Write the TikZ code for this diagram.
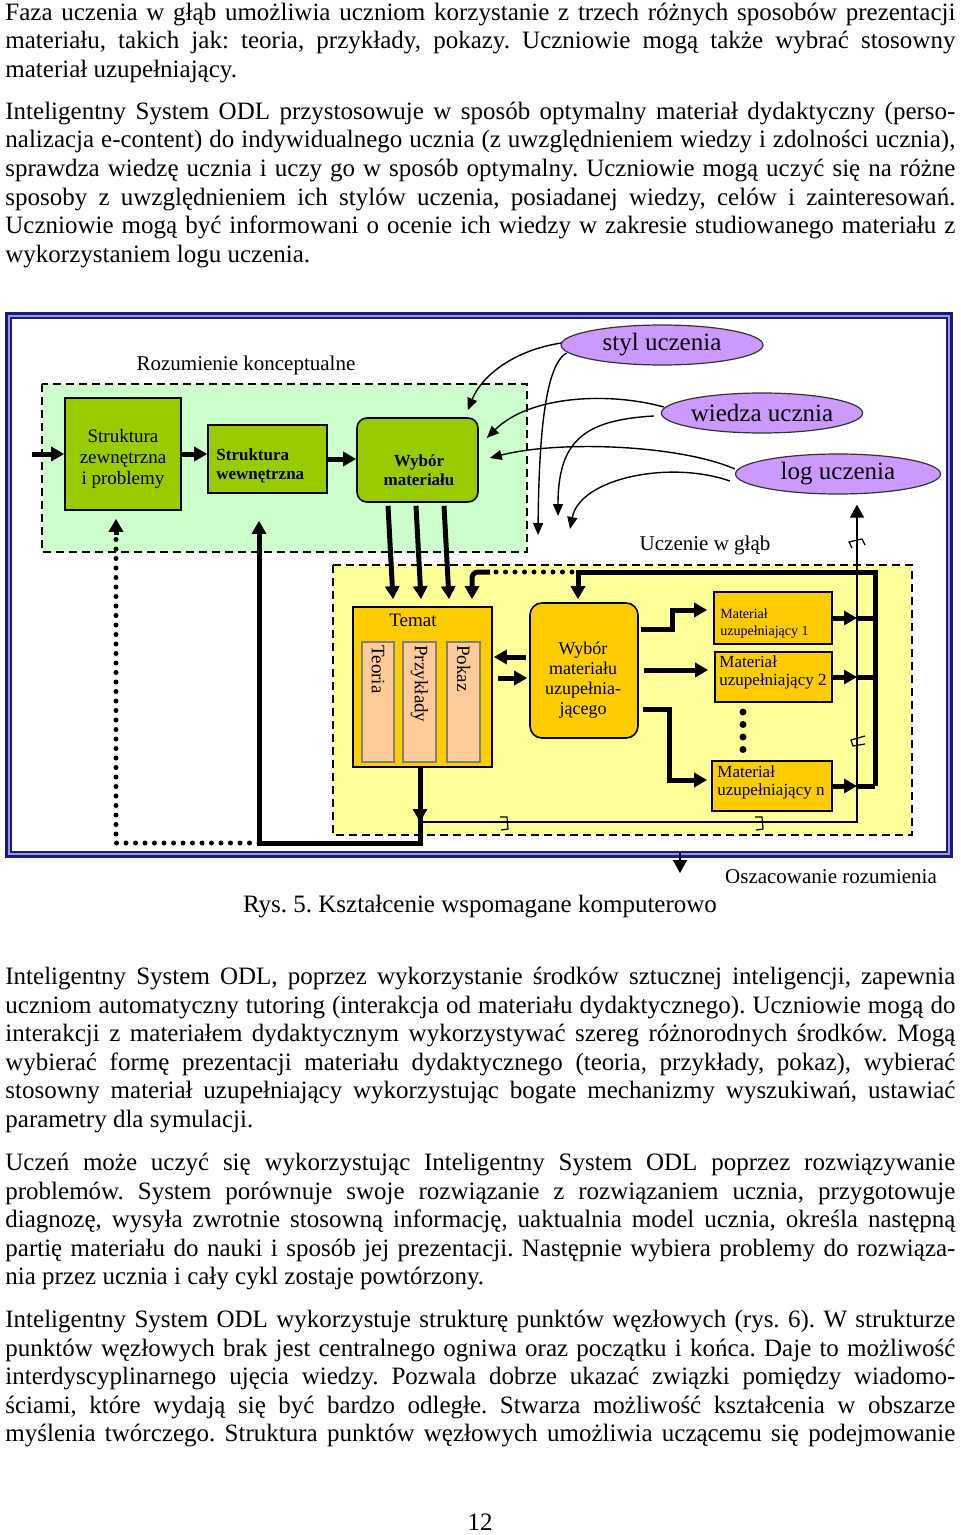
\documentclass[tikz,border=0pt]{standalone}
\usepackage{fontspec}
\setmainfont{Liberation Serif}
\usetikzlibrary{arrows.meta,shapes.geometric,calc}
\definecolor{navy}{HTML}{1A1A80}
\definecolor{lblue}{HTML}{9999DD}
\definecolor{lgreen}{HTML}{CCFFCC}
\definecolor{bgreen}{HTML}{99CC00}
\definecolor{lyellow}{HTML}{FFFF99}
\definecolor{gold}{HTML}{FFCC00}
\definecolor{peach}{HTML}{FFCC99}
\definecolor{lav}{HTML}{CC99FF}
\frenchspacing
\newcommand\fs[2]{\fontsize{#1pt}{#2pt}\selectfont}
\newcommand\sps{\frenchspacing\spaceskip=.25em plus .35em minus .08em\relax\xspaceskip=\spaceskip}
\newcommand\jline[1]{\noindent\makebox[475pt][s]{\sps\rule{0pt}{9.5pt}#1}\par}
\newcommand\lline[1]{\noindent\makebox[475pt][l]{\sps\rule{0pt}{9.5pt}#1}\par}
\lineskiplimit=-30pt
\begin{document}
\begin{tikzpicture}[x=0.5pt,y=-0.5pt,
  para/.style={anchor=north west,inner sep=0pt,text width=475pt,font=\fs{12.5}{14.3}},
  thk/.style={line width=2.5pt},
  thn/.style={line width=0.6pt},
  arr/.style={-{Triangle[length=6.5pt,width=7pt]}},
  cv/.style={line width=0.7pt,-{Triangle[length=6pt,width=5pt]}},
  dots/.style={line width=2.5pt,line cap=round,dash pattern=on 0pt off 4.75pt},
  gbox/.style={draw,line width=0.8pt,fill=bgreen,inner sep=0pt},
  ybox/.style={draw,line width=0.8pt,fill=gold,inner sep=0pt},
  pbox/.style={draw=black!50,line width=0.7pt,fill=peach,inner sep=0pt,minimum height=60pt},
  ell/.style={ellipse,draw=black!80,line width=0.6pt,fill=lav,inner sep=0pt,font=\fs{12.5}{14}},
  lbl/.style={inner sep=0pt,font=\fs{10.5}{12}},
  region/.style={draw,line width=0.8pt,dash pattern=on 4pt off 2.5pt}]
\useasboundingbox (0,0) rectangle (960,1535);
\fill[white] (0,0) rectangle (960,1535);

% ---------- text above ----------
\node[para] (p1) at (5,1) {%
\jline{Faza uczenia w głąb umożliwia uczniom korzystanie z trzech różnych sposobów prezentacji}
\jline{materiału, takich jak: teoria, przykłady, pokazy. Uczniowie mogą także wybrać stosowny}
\lline{materiał uzupełniający.}};
\node[para] (p2) at (5,100) {%
\jline{Inteligentny System ODL przystosowuje w sposób optymalny materiał dydaktyczny (perso-}
\jline{nalizacja e-content) do indywidualnego ucznia (z uwzględnieniem wiedzy i zdolności ucznia),}
\jline{sprawdza wiedzę ucznia i uczy go w sposób optymalny. Uczniowie mogą uczyć się na różne}
\jline{sposoby z uwzględnieniem ich stylów uczenia, posiadanej wiedzy, celów i zainteresowań.}
\jline{Uczniowie mogą być informowani o ocenie ich wiedzy w zakresie studiowanego materiału z}
\lline{wykorzystaniem logu uczenia.}};

% ---------- frame ----------
\draw[navy,line width=1.5pt] (6,314) rectangle (951,856);
\draw[lblue,line width=1pt] (8.5,316.5) rectangle (948.5,853.5);
\draw[navy,line width=1pt] (10.5,318.5) rectangle (946.5,851.5);

% ---------- regions ----------
\fill[lgreen] (42,384) rectangle (527,552);
\draw[region] (42,384) rectangle (527,552);
\fill[lyellow] (333,565) rectangle (912,835);
\draw[region] (333,565) rectangle (912,835);

\node[lbl] (rk) at (246,365) {Rozumienie konceptualne};
\node[lbl] (ug) at (705,545) {Uczenie w głąb};

% ---------- green boxes ----------
\node[gbox,minimum width=58pt,minimum height=56pt] (b1) at (123,454) {};
\node[gbox,minimum width=59.5pt,minimum height=34pt] (b2) at (267.5,459) {};
\node[gbox,rounded corners=5pt,minimum width=60.5pt,minimum height=42pt] (b3) at (417.5,460) {};
\node[inner sep=0pt,align=center,font=\fs{9.5}{10.5}] (b1t) at (123,459) {Struktura\\zewnętrzna\\i problemy};
\node[inner sep=0pt,align=left,anchor=west,font=\bfseries\fs{8.5}{9.5}] (b2t) at (216,466) {Struktura\\wewnętrzna};
\node[inner sep=0pt,align=center,font=\bfseries\fs{8.5}{9.5}] (b3t) at (419,470) {Wybór\\materiału};

% ---------- ellipses ----------
\node[ell,minimum width=101pt,minimum height=20pt] (styl) at (662,345) {styl uczenia};
\node[ell,minimum width=100pt,minimum height=20pt] (wiedza) at (762,413) {wiedza ucznia};
\node[ell,minimum width=102.5pt,minimum height=20pt] (log) at (838,474) {log uczenia};

% ---------- yellow part boxes ----------
\node[ybox,minimum width=69.5pt,minimum height=80pt] (tm) at (422.5,687) {};
\node[inner sep=0pt,font=\fs{9.5}{10.5}] (tmt) at (413,620) {Temat};
\node[pbox,minimum width=16pt] (teo) at (378,702) {};
\node[pbox,minimum width=16.5pt] (prz) at (419.5,702) {};
\node[pbox,minimum width=16.5pt] (pok) at (463.5,702) {};
\node[rotate=-90,anchor=west,inner sep=0pt,font=\fs{9.5}{10.5}] (teot) at (378,645) {Teoria};
\node[rotate=-90,anchor=west,inner sep=0pt,font=\fs{9.5}{10.5}] (przt) at (419.5,645) {Przykłady};
\node[rotate=-90,anchor=west,inner sep=0pt,font=\fs{9.5}{10.5}] (pokt) at (463.5,645) {Pokaz};

\node[ybox,rounded corners=6pt,minimum width=54pt,minimum height=67.5pt] (wu) at (584,670.5) {};
\node[inner sep=0pt,align=center,font=\fs{9}{10}] (wut) at (583,680) {Wybór\\materiału\\uzupełnia-\\jącego};

\node[ybox,minimum width=59pt,minimum height=26pt] (m1) at (773,618) {};
\node[ybox,minimum width=58.5pt,minimum height=25pt] (m2) at (773.5,677) {};
\node[ybox,minimum width=60pt,minimum height=25pt] (mn) at (772,786) {};
\node[inner sep=0pt,align=left,anchor=west,font=\fs{7}{8.5}] (m1t) at (720,624) {Materiał\\uzupełniający 1};
\node[inner sep=0pt,align=left,anchor=west,font=\fs{8.5}{9}] (m2t) at (719,672) {Materiał\\uzupełniający 2};
\node[inner sep=0pt,align=left,anchor=west,font=\fs{8.5}{9}] (mnt) at (717,782) {Materiał\\uzupełniający n};
\foreach \yy in {712,724.5,737,749.5} \fill (743,\yy) circle (1.75pt);

% ---------- coordinates ----------
\coordinate (in) at (32,454);
\coordinate (rt) at (875,572);
\coordinate (tl) at (857,822);
\coordinate (lc) at (420,843);
\coordinate (bl) at (259,843);
\coordinate (dl) at (116,843);
\coordinate (d1) at (572,572);
\coordinate (d2) at (490,572);
\coordinate (e1) at (538,535);
\coordinate (e2) at (558,516);
\coordinate (e3) at (570,529);
\coordinate (oz) at (680,873);

% ---------- thick connectors ----------
\draw[thk,arr] (in) -- (b1.west);
\draw[thk,arr] (b1.east) -- (b1.east -| b2.west);
\draw[thk,arr] (b2.east) -- (b2.east -| b3.west);
\foreach \dx in {-29.5,-1.5,26.5}
  \draw[thk,arr] ($(b3.south)+(\dx,3)$) -- ($(b3.south |- tm.north)+(\dx+5,-7)$);

\draw[thk,arr] (mn.east -| rt) -- (rt) -| ($(wu.north)+(-6,-3)$);
\draw[dots] (d1) -- (d2);
\draw[thk,arr,rounded corners=3pt] (d2) -| ($(tm.north)+(49.5,-7)$);

\draw[thk,arr] (m1.east) -- (m1.east -| tl);
\draw[thk] (m1.east -| tl) -- (m1.east -| rt);
\draw[thk,arr] (m2.east) -- (m2.east -| tl);
\draw[thk] (m2.east -| tl) -- (m2.east -| rt);
\draw[thk,arr] (mn.east) -- (mn.east -| tl);
\draw[thk] (mn.east -| tl) -- (mn.east -| rt);

\draw[thk,arr] ($(wu.east)+(2,-41.5)$) -- ++(32,0) -- ++(0,-19) -- ($(m1.west)+(-6,-8)$);
\draw[thk,arr] ($(wu.east)+(5,-0.5)$) -- ($(m2.west)+(-6,-7)$);
\draw[thk,arr] ($(wu.east)+(4,38.5)$) -- ++(27,0) -- ++(0,71) -- ($(mn.west)+(-4,-6)$);

\draw[thk,arr] ($(wu.west)+(-3,-13.5)$) -- ($(tm.east |- wu.west)+(1,-13.5)$);
\draw[thk,arr] ($(tm.east |- wu.west)+(5,7.5)$) -- ($(wu.west)+(-2,7.5)$);

% thin feedback line
\draw[thn,arr] (tl -| lc) -- (tl) -- ($(tl |- log.south)+(0,10)$);
\draw[thn] (500,817) -- (507,817) -- (508,829) -- (501,830);
\draw[thn] (755,817) -- (762,817) -- (763,829) -- (756,830);
\draw[thn] (852,548) -- (849,542) -- (862,539) -- (865,545);
\draw[thn] (865,736) -- (851,740) -- (853,746) -- (865,744);

\draw[thk,arr] (tm.south -| lc) -- (lc) -- (bl) -- ($(b2.south -| bl)+(0,27)$);
\draw[thk,arr] (tm.south -| lc) -- (tl -| lc);
\draw[dots] (bl) -- (dl) -- ($(b1.south -| dl)+(0,24)$);
\draw[thk,arr] ($(b1.south -| dl)+(0,24)$) -- ($(b1.south -| dl)+(0,8)$);

% ---------- curved arrows ----------
\draw[cv] ($(styl.west)+(1,-2)$) .. controls (515,350) and (482,375) .. ($(b3.north east)+(-11,-7)$);
\draw[cv] ($(styl.west)+(6,8)$) .. controls (546,365) and (539,430) .. (e1);
\draw[cv] ($(wiedza.west)+(3,-6)$) .. controls (610,392) and (530,395) .. ($(b3.east)+(8,-22)$);
\draw[cv] ($(wiedza.west)+(-7,3)$) .. controls (585,420) and (558,440) .. (e2);
\draw[cv] ($(log.west)+(0,-5)$) .. controls (680,445) and (560,440) .. ($(b3.east)+(11,-2)$);
\draw[cv] ($(log.west)+(-5,7)$) .. controls (670,460) and (580,478) .. (e3);

% ---------- below frame ----------
\draw[thn,-{Triangle[length=6.5pt,width=7pt]}] (680,852) -- (oz);
\node[lbl] (osz) at (831,877) {Oszacowanie rozumienia};
\node[inner sep=0pt,font=\fs{12.5}{14}] (cap) at (480,907) {Rys. 5. Kształcenie wspomagane komputerowo};

% ---------- text below ----------
\node[para] (p3) at (5,965) {%
\jline{Inteligentny System ODL, poprzez wykorzystanie środków sztucznej inteligencji, zapewnia}
\jline{uczniom automatyczny tutoring (interakcja od materiału dydaktycznego). Uczniowie mogą do}
\jline{interakcji z materiałem dydaktycznym wykorzystywać szereg różnorodnych środków. Mogą}
\jline{wybierać formę prezentacji materiału dydaktycznego (teoria, przykłady, pokaz), wybierać}
\jline{stosowny materiał uzupełniający wykorzystując bogate mechanizmy wyszukiwań, ustawiać}
\lline{parametry dla symulacji.}};
\node[para] (p4) at (5,1151) {%
\jline{Uczeń może uczyć się wykorzystując Inteligentny System ODL poprzez rozwiązywanie}
\jline{problemów. System porównuje swoje rozwiązanie z rozwiązaniem ucznia, przygotowuje}
\jline{diagnozę, wysyła zwrotnie stosowną informację, uaktualnia model ucznia, określa następną}
\jline{partię materiału do nauki i sposób jej prezentacji. Następnie wybiera problemy do rozwiąza-}
\lline{nia przez ucznia i cały cykl zostaje powtórzony.}};
\node[para] (p5) at (5,1308) {%
\jline{Inteligentny System ODL wykorzystuje strukturę punktów węzłowych (rys. 6). W strukturze}
\jline{punktów węzłowych brak jest centralnego ogniwa oraz początku i końca. Daje to możliwość}
\jline{interdyscyplinarnego ujęcia wiedzy. Pozwala dobrze ukazać związki pomiędzy wiadomo-}
\jline{ściami, które wydają się być bardzo odległe. Stwarza możliwość kształcenia w obszarze}
\jline{myślenia twórczego. Struktura punktów węzłowych umożliwia uczącemu się podejmowanie}};
\node[anchor=base,inner sep=0pt,font=\fs{12.5}{14}] (pg) at (480,1530) {12};
\end{tikzpicture}
\end{document}
